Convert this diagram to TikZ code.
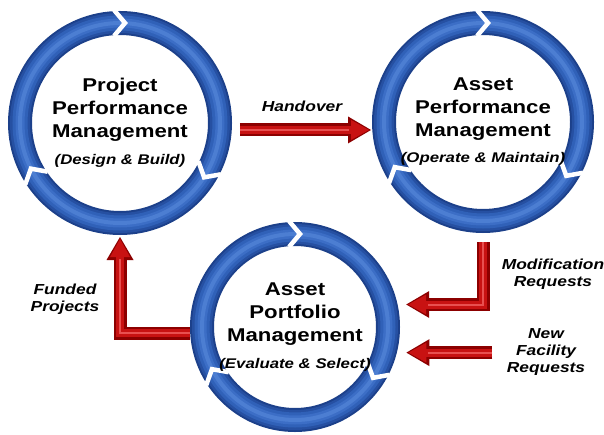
\documentclass[tikz,border=0pt]{standalone}
\usepackage{fontspec}
\setmainfont{Liberation Sans}
\usetikzlibrary{arrows.meta,positioning,calc}

\definecolor{ringdark}{RGB}{28,64,138}
\definecolor{ringdeep}{RGB}{38,80,162}
\definecolor{ringblue}{RGB}{48,97,184}
\definecolor{ringmid}{RGB}{60,110,198}
\definecolor{ringlight}{RGB}{76,126,210}
\definecolor{arrowdark}{RGB}{140,0,0}
\definecolor{arrowred}{RGB}{200,18,18}
\definecolor{arrowlight}{RGB}{232,80,80}

\newcommand{\ringsub}{\fontsize{14}{17}\selectfont\itshape}
\newcommand{\redarrow}[1]{%
  \draw[arrowout] #1;
  \draw[arrowmid] #1;
  \draw[arrowhi] #1;}

\tikzset{
  ring/.style={circle, outer sep=0pt, minimum size=#1, draw=ringdark, line width=24pt,
    postaction={draw=ringdeep, line width=20pt},
    postaction={draw=ringblue, line width=15pt},
    postaction={draw=ringmid, line width=9pt},
    postaction={draw=ringlight, line width=4pt}},
  ringtext/.style={align=center, xscale=1.2, text=black,
    font=\fontsize{18.5}{23}\selectfont\bfseries},
  sidetext/.style={align=center, xscale=1.2, text=black,
    font=\fontsize{14.5}{17}\selectfont\bfseries\itshape},
  arrowout/.style={draw=arrowdark, line width=13pt,
    -{Triangle[length=23pt,width=27pt,line width=0pt]}},
  arrowmid/.style={draw=arrowred, line width=8pt, shorten >=2pt,
    -{Triangle[length=18pt,width=20pt,line width=0pt]}},
  arrowhi/.style={draw=arrowlight, line width=2pt, shorten >=22pt},
  chev/.pic={\draw[white, line width=4.5pt, line join=miter]
    (-6,13) -- (5,0) -- (-6,-13);}
}

\begin{document}
\begin{tikzpicture}[x=1pt, y=1pt]
\useasboundingbox (0,0) rectangle (604,434);

% the three rings
\node[ring=200pt] (ppm) at (120,311) {};
\node[ring=198pt] (apm) at (483,312) {};
\node[ring=186pt] (apf) at (295,107) {};

% chevrons
\foreach \c in {ppm,apm,apf}
  \foreach \a in {90,-30,210}
    \pic[rotate=\a-90] at (\c.\a) {chev};

% ring texts
\node[ringtext] (ppm text) at (ppm) {Project\\Performance\\Management\\[4pt]{\ringsub (Design \& Build)}};
\node[ringtext] (apm text) at (apm) {Asset\\Performance\\Management\\[3pt]{\ringsub (Operate \& Maintain)}};
\node[ringtext] (apf text) at (apf) {Asset\\Portfolio\\Management\\[4pt]{\ringsub (Evaluate \& Select)}};

% red arrows
\coordinate (hand start) at ([xshift=20pt]ppm.-4);
\path (hand start -| apm.west) ++(-13,0) coordinate (hand end);
\redarrow{(hand start) -- (hand end)}

\coordinate (mod start) at ([yshift=-21pt]apm.south);
\coordinate (mod end) at ([xshift=21pt]apf.14);
\redarrow{(mod start) |- (mod end)}

\coordinate (new end) at ([xshift=22pt]apf.-16);
\coordinate (new start) at ([xshift=86pt]new end);
\redarrow{(new start) -- (new end)}

\coordinate (fund start) at ([xshift=-12pt]apf.184);
\coordinate (fund end) at ([yshift=-14pt]ppm.south);
\redarrow{(fund start) -| (fund end)}

% arrow labels
\node[sidetext] (hand label) at (302,328) {Handover};
\node[sidetext] (mod label) at (553,160) {Modification\\Requests};
\node[sidetext] (new label) at (546,82) {New\\Facility\\Requests};
\node[sidetext] (fund label) at (65,135) {Funded\\Projects};

\end{tikzpicture}
\end{document}
